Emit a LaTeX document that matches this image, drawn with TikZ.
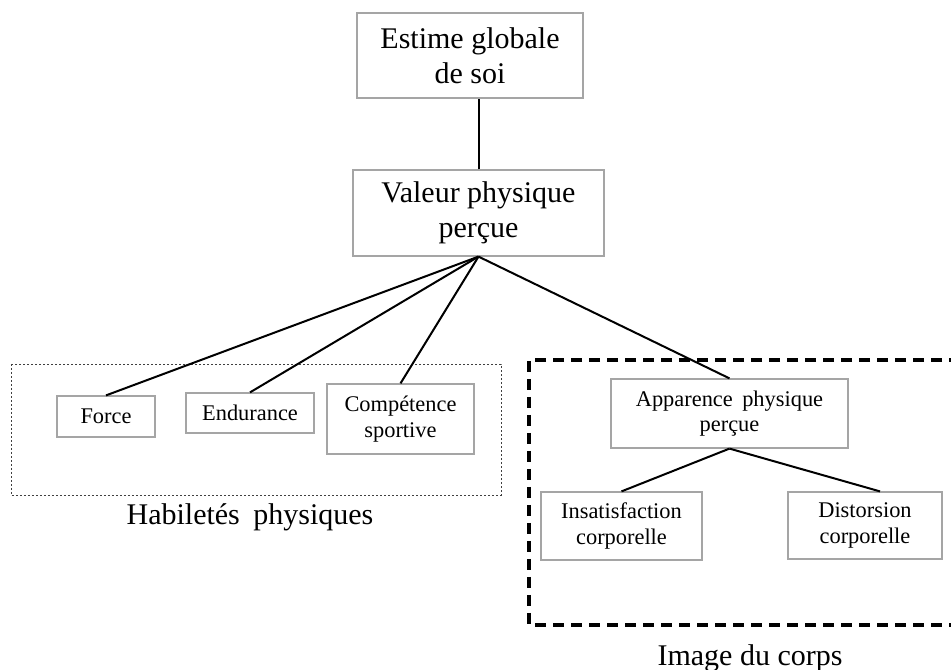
\documentclass[tikz,border=0pt]{standalone}
\usepackage{fontspec}
\setmainfont{Liberation Serif}
\usetikzlibrary{calc}
\definecolor{boxgray}{RGB}{165,165,165}
\tikzset{
  box/.style={draw=boxgray, line width=0.9pt, inner sep=0pt, align=center},
  bigbox/.style={box, font=\fontsize{22.5}{26}\selectfont},
  smallbox/.style={box, font=\fontsize{16.8}{19}\selectfont},
  conn/.style={line width=1.5pt, black},
  grouplabel/.style={font=\fontsize{22.5}{26}\selectfont, anchor=base, inner sep=0pt},
  dotframe/.style={draw=black!75, line width=0.6pt, dash pattern=on 1.6pt off 1.4pt},
  dashframe/.style={draw=black, line width=2.3pt, dash pattern=on 8.5pt off 5pt}
}
\begin{document}
\begin{tikzpicture}[x=0.75pt,y=-0.75pt]
\useasboundingbox (0,0) rectangle (951,670);
% group frames
\draw[dotframe] (11,364) rectangle (501,495);
\draw[dashframe] (960,360) -- (529,360) -- (529,625) -- (960,625);
% nodes
\node[bigbox, minimum width=169.5pt, minimum height=63.75pt] (estime) at (470,55.5) {Estime globale\\de soi};
\node[bigbox, minimum width=188.25pt, minimum height=64.5pt] (valeur) at (478.5,213) {Valeur physique\\perçue};
\node[smallbox, minimum width=73.5pt, minimum height=30.75pt] (force) at (106,416.5) {Force};
\node[smallbox, minimum width=96pt, minimum height=30pt] (endurance) at (250,413) {Endurance};
\node[smallbox, minimum width=110.25pt, minimum height=52.5pt] (competence) at (400.5,419) {Compétence\\sportive};
\node[smallbox, minimum width=177.75pt, minimum height=51.75pt] (apparence) at (729.5,413.5) {Apparence\hspace{0.42em}physique\\perçue};
\node[smallbox, minimum width=120.75pt, minimum height=51pt] (insat) at (621.5,526) {Insatisfaction\\corporelle};
\node[smallbox, minimum width=115.5pt, minimum height=50.25pt] (distorsion) at (865,525.5) {Distorsion\\corporelle};
% group labels
\node[grouplabel] (habil) at (250,525) {Habiletés\hspace{0.45em}physiques};
\node[grouplabel] (image) at (750,665) {Image du corps};
% connectors
\draw[conn] (valeur.north) -- (valeur.north |- estime.south);
\draw[conn] (valeur.south) -- (force.north);
\draw[conn] (valeur.south) -- (endurance.north);
\draw[conn] (valeur.south) -- (competence.north);
\draw[conn] (valeur.south) -- (apparence.north);
\draw[conn] (apparence.south) -- (insat.north);
\draw[conn] (apparence.south) -- ($(distorsion.north)+(15,0)$);
\end{tikzpicture}
\end{document}
